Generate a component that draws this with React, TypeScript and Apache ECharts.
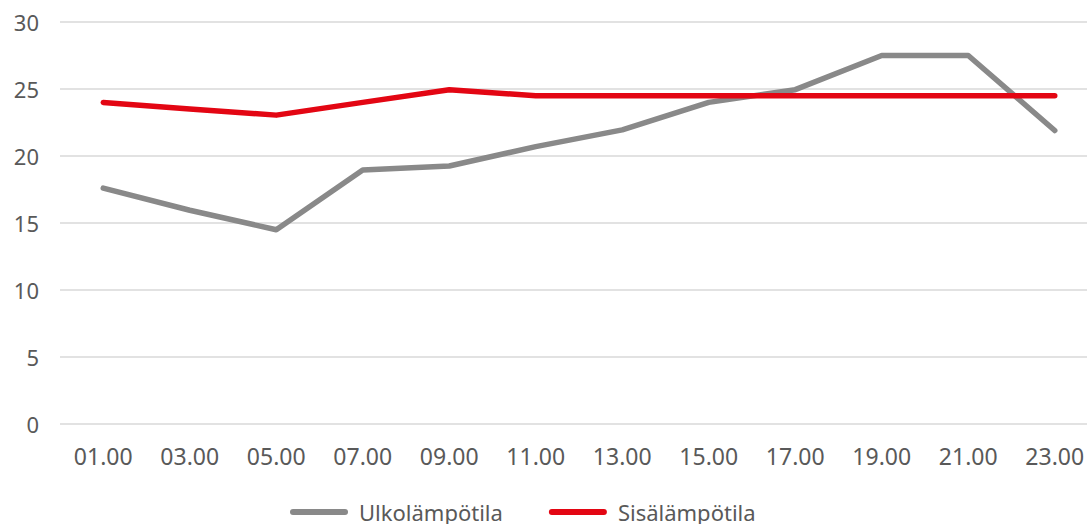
import React, { useEffect, useRef } from "react";
import * as echarts from "echarts";

const categories = ["01.00", "03.00", "05.00", "07.00", "09.00", "11.00", "13.00", "15.00", "17.00", "19.00", "21.00", "23.00"];
const outdoor = [17.6, 15.95, 14.5, 18.95, 19.25, 20.7, 21.95, 24.0, 24.95, 27.5, 27.5, 21.9];
const indoor = [24.0, 23.5, 23.05, 24.0, 24.95, 24.5, 24.5, 24.5, 24.5, 24.5, 24.5, 24.5];
const seriesNames = ["Ulkolämpötila", "Sisälämpötila"];

const FONT = "'Noto Sans', sans-serif";
const legendIcon = "path://M3,0 H55 A3,3 0 0 1 55,6 H3 A3,3 0 0 1 3,0 Z";

export default function App() {
  const ref = useRef<HTMLDivElement>(null);
  useEffect(() => {
    document.body.style.margin = "0";
    if (!ref.current) return;
    const chart = echarts.init(ref.current, undefined, { renderer: "svg" });
    chart.setOption({
      animation: false,
      textStyle: { fontFamily: FONT },
      grid: { left: 60, right: 0, top: 22, bottom: 100 },
      legend: {
        left: 290,
        top: 501,
        padding: 0,
        itemWidth: 58,
        itemHeight: 6,
        itemGap: 46,
        icon: legendIcon,
        textStyle: { fontFamily: FONT, fontSize: 22, lineHeight: 22, color: "#595959", padding: [0, 0, 0, 6] },
        data: seriesNames,
      },
      xAxis: {
        type: "category",
        data: categories,
        boundaryGap: true,
        axisLine: { show: false },
        axisTick: { show: false },
        axisLabel: { fontFamily: FONT, fontSize: 23, color: "#595959", margin: 20 },
      },
      yAxis: {
        type: "value",
        min: 0,
        max: 30,
        interval: 5,
        axisLine: { show: false },
        axisTick: { show: false },
        axisLabel: { fontFamily: FONT, fontSize: 22, color: "#595959", margin: 21 },
        splitLine: { lineStyle: { color: "#d9d9d9", width: 1.5 } },
      },
      series: [
        {
          name: seriesNames[0],
          type: "line",
          data: outdoor,
          symbol: "none",
          color: "#898989",
          lineStyle: { color: "#898989", width: 5.5, cap: "round", join: "round" },
        },
        {
          name: seriesNames[1],
          type: "line",
          data: indoor,
          symbol: "none",
          color: "#e30613",
          lineStyle: { color: "#e30613", width: 5.5, cap: "round", join: "round" },
        },
      ],
    });
    return () => chart.dispose();
  }, []);
  return (
    <div style={{ width: 1087, height: 524, overflow: "hidden" }}>
      <div ref={ref} style={{ width: 1098, height: 524 }} />
    </div>
  );
}
